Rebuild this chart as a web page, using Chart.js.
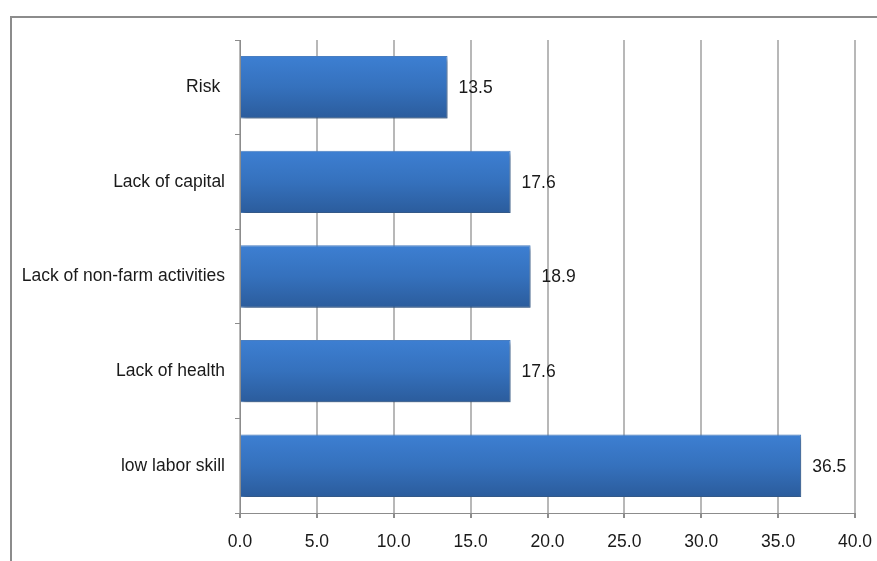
<!DOCTYPE html>
<html>
<head>
<meta charset="UTF-8">
<script src="https://cdn.jsdelivr.net/npm/chart.js@4"></script>
<style>
  html, body { margin: 0; padding: 0; background: #fff; overflow: hidden; }
  #frame { position: absolute; left: 10px; top: 16px; width: 900px; height: 600px; border: 2px solid #8c8c8c; box-sizing: border-box; }
  #wrap { position: absolute; left: 0; top: 0; width: 877px; height: 561px; }
</style>
</head>
<body>
<div id="frame"></div>
<div id="wrap"><canvas id="c" width="877" height="561"></canvas></div>
<script>
// data
const categories = ['Risk ', 'Lack of capital', 'Lack of non-farm activities', 'Lack of health', 'low labor skill'];
const values = [13.5, 17.6, 18.9, 17.6, 36.5];
const xMin = 0, xMax = 40, xStep = 5;

const FONT = "'Liberation Sans', 'DejaVu Sans', sans-serif";
const FSIZE = 17.5;
const BAR_PCT = 0.66;

// per-bar vertical gradient, like the old office bars
function barFill(ctx) {
  const chart = ctx.chart;
  const y = chart.scales.y;
  if (!y || ctx.dataIndex == null) return '#3570bb';
  const c = y.getPixelForValue(ctx.dataIndex);
  const band = (y.bottom - y.top) / categories.length;
  const h = band * BAR_PCT;
  if (!isFinite(c) || !isFinite(h) || h <= 0) return '#3570bb';
  const g = chart.ctx.createLinearGradient(0, c - h / 2, 0, c + h / 2);
  g.addColorStop(0, '#3d7fd2');
  g.addColorStop(0.5, '#3571bd');
  g.addColorStop(1, '#2b5c9c');
  return g;
}

const shadowPlugin = {
  id: 'shadow',
  beforeDatasetsDraw(chart) {
    const c = chart.ctx;
    c.save();
    c.shadowColor = 'rgba(0,0,0,0.35)';
    c.shadowBlur = 4;
    c.shadowOffsetX = 2;
    c.shadowOffsetY = 3;
  },
  afterDatasetsDraw(chart) {
    chart.ctx.restore();
    // value labels at bar ends
    const c = chart.ctx;
    const meta = chart.getDatasetMeta(0);
    c.save();
    c.font = FSIZE + 'px ' + FONT;
    c.fillStyle = '#1a1a1a';
    c.textAlign = 'left';
    c.textBaseline = 'middle';
    meta.data.forEach((bar, i) => {
      c.fillText(values[i].toFixed(1), bar.x + 11, bar.y + 1);
    });
    c.restore();
  }
};

const chart = new Chart(document.getElementById('c'), {
  type: 'bar',
  data: {
    labels: categories,
    datasets: [{
      data: values,
      backgroundColor: barFill,
      borderColor: '#4a80c4',
      borderWidth: 1,
      categoryPercentage: 1,
      barPercentage: BAR_PCT
    }]
  },
  options: {
    indexAxis: 'y',
    responsive: false,
    animation: false,
    devicePixelRatio: 1,
    layout: { padding: { top: 40, right: 22, left: 0, bottom: 0 } },
    plugins: { legend: { display: false }, tooltip: { enabled: false } },
    scales: {
      x: {
        min: xMin, max: xMax,
        grid: { color: '#b8b8b8', lineWidth: 2, tickLength: 5, tickColor: '#8c8c8c' },
        border: { color: '#8c8c8c', width: 1 },
        ticks: {
          stepSize: xStep,
          padding: 14,
          maxRotation: 0,
          color: '#1a1a1a',
          font: { family: FONT, size: FSIZE },
          callback: v => Number(v).toFixed(1)
        },
        afterFit(s) { s.height = 48; s.paddingLeft = 0; s.paddingRight = 0; }
      },
      y: {
        grid: { drawOnChartArea: false, tickLength: 5, color: '#8c8c8c' },
        border: { color: '#8c8c8c', width: 1 },
        ticks: { padding: 10, color: '#1a1a1a', font: { family: FONT, size: FSIZE } },
        afterFit(s) { s.width = 240; }
      }
    }
  },
  plugins: [shadowPlugin]
});
// re-resolve fills now that the scales are laid out
chart.update();
</script>
</body>
</html>
